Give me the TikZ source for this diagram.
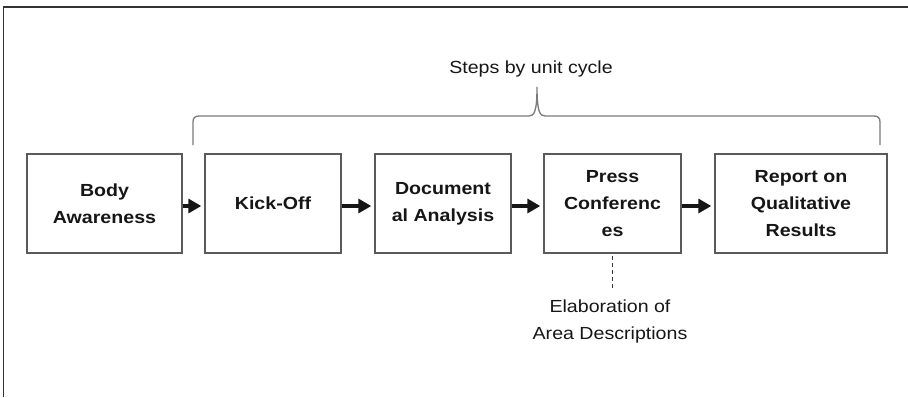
\documentclass[tikz,border=0pt]{standalone}
\usepackage{fontspec}
\setmainfont{Liberation Sans}[FakeStretch=1.12]
\usetikzlibrary{arrows.meta}
\definecolor{boxline}{HTML}{5A5A5A}
\definecolor{ink}{HTML}{161616}
\definecolor{braceline}{HTML}{7A7A7A}
\tikzset{
  stepbox/.style={draw=boxline, line width=1.4pt, fill=white, minimum height=99pt,
    align=center, text=ink, font=\fontsize{17.5}{27}\selectfont\bfseries, inner sep=0pt},
  flow/.style={line width=4.5pt, draw=ink, shorten >=3pt,
    -{Triangle[length=13pt,width=14pt]}},
  note/.style={text=ink, font=\fontsize{17.5}{27}\selectfont, align=center, inner sep=0pt},
  link/.style={draw=ink!85, line width=1.8pt, dash pattern=on 4pt off 3pt},
  frame/.style={draw=black!80, line width=1.6pt},
}
\begin{document}
\begin{tikzpicture}[x=1pt,y=1pt]
  \useasboundingbox (0,0) rectangle (908,-397);
  % page frame: top and left edges
  \draw[frame] (3.5,-397) -- (3.5,-7) -- (908,-7);

  % process steps
  \node[stepbox, minimum width=155pt] (body)   at (104.5,-203.5) {Body\\Awareness};
  \node[stepbox, minimum width=136pt] (kick)   at (273,-203.5)   {Kick-Off};
  \node[stepbox, minimum width=136pt] (doc)    at (443,-203.5)   {Document\\al Analysis};
  \node[stepbox, minimum width=137pt] (press)  at (612.5,-203.5) {Press\\Conferenc\\es};
  \node[stepbox, minimum width=172pt] (report) at (801,-203.5)   {Report on\\Qualitative\\Results};

  % arrows between the steps
  \foreach \a/\b in {body/kick, kick/doc, doc/press, press/report}
    \draw[flow] ([yshift=-2.5pt]\a.east) -- ([yshift=-2.5pt]\b.west);

  % side note attached to the press conferences
  \node[note] (elab) at (610,-321) {Elaboration of\\Area Descriptions};
  \coordinate (elabtop) at (612.5,-288);
  \draw[link] ([yshift=-2pt]press.south) -- (elabtop);

  % brace grouping the unit cycle
  \draw[braceline, line width=1.3pt]
    (193,-145) -- (193,-122) .. controls (193,-118) and (195,-116) .. (199,-116)
    -- (529,-116) .. controls (534,-116) and (537,-112) .. (537,-87)
    .. controls (537,-112) and (540,-116) .. (545,-116)
    -- (874,-116) .. controls (878,-116) and (880,-118) .. (880,-122) -- (880,-145);
  \node[note, anchor=base] (cycle) at (531,-73) {Steps by unit cycle};
\end{tikzpicture}
\end{document}
